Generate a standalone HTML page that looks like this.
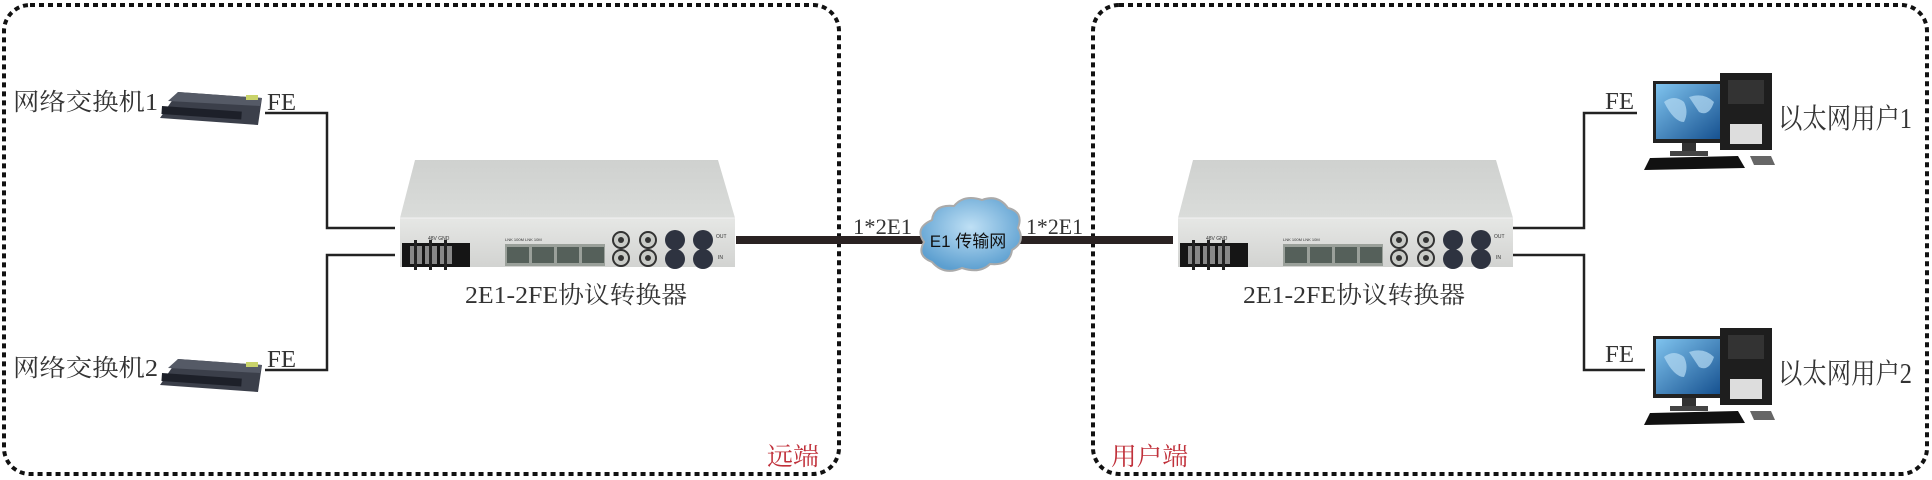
<!DOCTYPE html>
<html><head><meta charset="utf-8"><style>html,body{margin:0;padding:0;background:#fff}svg{display:block}</style></head><body>
<svg width="1932" height="480" viewBox="0 0 1932 480" xmlns="http://www.w3.org/2000/svg">
<defs>
<linearGradient id="top" x1="0" y1="0" x2="0" y2="1"><stop offset="0" stop-color="#cfd1cf"/><stop offset="1" stop-color="#dadcda"/></linearGradient>
<linearGradient id="front" x1="0" y1="0" x2="0" y2="1"><stop offset="0" stop-color="#e6e7e5"/><stop offset="1" stop-color="#d2d3d1"/></linearGradient>
<radialGradient id="cl" cx="0.5" cy="0.4" r="0.6"><stop offset="0" stop-color="#bfe0f5"/><stop offset="1" stop-color="#5c9fd0"/></radialGradient>
<linearGradient id="scr" x1="0" y1="0" x2="1" y2="1"><stop offset="0" stop-color="#7fc3ee"/><stop offset="1" stop-color="#15508f"/></linearGradient>
<g id="dev">
  <polygon points="15,0 318,0 335,58 0,58" fill="url(#top)"/>
  <rect x="0" y="58" width="335" height="49" fill="url(#front)"/>
  <line x1="0" y1="58" x2="335" y2="58" stroke="#f2f2f2" stroke-width="1"/>
  <rect x="2" y="83" width="68" height="24" fill="#151515"/>
  <rect x="10" y="86" width="12" height="18" fill="#888"/><rect x="25" y="86" width="12" height="18" fill="#888"/><rect x="40" y="86" width="12" height="18" fill="#888"/>
  <rect x="14" y="80" width="3" height="30" fill="#222"/><rect x="29" y="80" width="3" height="30" fill="#222"/><rect x="44" y="80" width="3" height="30" fill="#222"/>
  <text x="28" y="80" font-family="Liberation Sans" font-size="5" fill="#333">48V GND</text>
  <text x="105" y="81" font-family="Liberation Sans" font-size="4" fill="#333">LNK 100M LNK 10M</text>
  <rect x="105" y="84" width="100" height="22" fill="#9aa09a"/>
  <rect x="107" y="87" width="22" height="16" fill="#55605a"/><rect x="132" y="87" width="22" height="16" fill="#55605a"/><rect x="157" y="87" width="22" height="16" fill="#55605a"/><rect x="182" y="87" width="22" height="16" fill="#55605a"/>
  <g fill="#c9cbc7" stroke="#333" stroke-width="2">
    <circle cx="221" cy="80" r="8"/><circle cx="248" cy="80" r="8"/><circle cx="221" cy="98" r="8"/><circle cx="248" cy="98" r="8"/>
  </g>
  <g fill="#333"><circle cx="221" cy="80" r="3"/><circle cx="248" cy="80" r="3"/><circle cx="221" cy="98" r="3"/><circle cx="248" cy="98" r="3"/></g>
  <g fill="#2e3340"><circle cx="275" cy="80" r="10"/><circle cx="303" cy="80" r="10"/><circle cx="275" cy="99" r="10"/><circle cx="303" cy="99" r="10"/></g>
  <text x="316" y="78" font-family="Liberation Sans" font-size="5" fill="#333">OUT</text>
  <text x="318" y="99" font-family="Liberation Sans" font-size="5" fill="#333">IN</text>
</g>
<g id="sw">
  <polygon points="18,0 102,6 98,33 0,26" fill="#3b3f4a"/>
  <polygon points="18,0 102,6 100,14 8,9" fill="#555a66"/>
  <rect x="2" y="14" width="80" height="8" fill="#1d2029" transform="rotate(4 2 14)"/>
  <rect x="86" y="3" width="12" height="5" fill="#c9d36a"/>
</g>
<g id="pc">
  <rect x="9" y="9" width="72" height="62" fill="#222"/>
  <rect x="12" y="12" width="66" height="55" fill="url(#scr)"/>
  <path d="M20 30 q10-8 20 0 q5 10 0 20 q-10 0-20-20z M45 25 q15-5 25 5 q-5 15-15 10z" fill="#b7dcf3" opacity="0.7"/>
  <rect x="38" y="71" width="14" height="8" fill="#333"/>
  <rect x="26" y="79" width="38" height="5" fill="#444"/>
  <polygon points="76,1 128,1 128,78 76,78" fill="#1e1e1e"/>
  <rect x="84" y="8" width="36" height="24" fill="#333"/>
  <rect x="86" y="52" width="32" height="20" fill="#ddd"/>
  <polygon points="6,86 94,84 101,96 0,98" fill="#111"/>
  <polygon points="106,84 127,84 131,93 110,93" fill="#666"/>
</g>
</defs>

<!-- dashed boxes -->
<rect x="4" y="5" width="835" height="469" rx="26" fill="none" stroke="#111" stroke-width="4" stroke-dasharray="5 4"/>
<rect x="1093" y="5" width="834" height="469" rx="26" fill="none" stroke="#111" stroke-width="4" stroke-dasharray="5 4"/>

<!-- left connector lines -->
<polyline points="265,113 327,113 327,228 395,228" fill="none" stroke="#222" stroke-width="2.5"/>
<polyline points="265,370 327,370 327,255 395,255" fill="none" stroke="#222" stroke-width="2.5"/>
<!-- right connector lines -->
<polyline points="1512,228 1584,228 1584,113 1637,113" fill="none" stroke="#222" stroke-width="2.5"/>
<polyline points="1512,255 1584,255 1584,370 1645,370" fill="none" stroke="#222" stroke-width="2.5"/>
<!-- thick E1 line -->
<rect x="736" y="236" width="437" height="8" fill="#2a2222"/>

<!-- cloud -->
<g>
  <path d="M932 262 q-16-6-8-20 q-10-14 8-22 q2-16 22-14 q10-12 28-6 q16-6 26 8 q16 4 10 20 q8 14-6 22 q-2 16-22 14 q-10 10-28 4 q-18 8-30-6z" fill="url(#cl)" stroke="#aaa" stroke-width="2"/>
  <text x="968" y="247" text-anchor="middle" font-family="Liberation Sans, 'Noto Sans CJK SC', sans-serif" font-size="17" fill="#111">E1 传输网</text>
</g>
<text x="853" y="234" font-family="'Liberation Serif','Noto Serif CJK SC',serif" font-size="22" fill="#333" textLength="59" lengthAdjust="spacingAndGlyphs">1*2E1</text>
<text x="1026" y="234" font-family="'Liberation Serif','Noto Serif CJK SC',serif" font-size="22" fill="#333" textLength="57" lengthAdjust="spacingAndGlyphs">1*2E1</text>

<!-- devices -->
<use href="#dev" x="400" y="160"/>
<use href="#dev" x="1178" y="160"/>
<text x="465" y="303" font-family="'Liberation Serif','Noto Serif CJK SC',serif" font-size="24" fill="#333" textLength="222" lengthAdjust="spacingAndGlyphs">2E1-2FE协议转换器</text>
<text x="1243" y="303" font-family="'Liberation Serif','Noto Serif CJK SC',serif" font-size="24" fill="#333" textLength="222" lengthAdjust="spacingAndGlyphs">2E1-2FE协议转换器</text>

<!-- switches -->
<use href="#sw" x="160" y="92"/>
<use href="#sw" x="160" y="359"/>
<text x="13" y="110" font-family="'Liberation Serif','Noto Serif CJK SC',serif" font-size="24" fill="#333" textLength="145" lengthAdjust="spacingAndGlyphs">网络交换机1</text>
<text x="13" y="376" font-family="'Liberation Serif','Noto Serif CJK SC',serif" font-size="24" fill="#333" textLength="145" lengthAdjust="spacingAndGlyphs">网络交换机2</text>
<text x="267" y="110" font-family="'Liberation Serif',serif" font-size="24" fill="#333" textLength="29" lengthAdjust="spacingAndGlyphs">FE</text>
<text x="267" y="367" font-family="'Liberation Serif',serif" font-size="24" fill="#333" textLength="29" lengthAdjust="spacingAndGlyphs">FE</text>

<!-- PCs -->
<use href="#pc" x="1644" y="72"/>
<use href="#pc" x="1644" y="327"/>
<text x="1605" y="109" font-family="'Liberation Serif',serif" font-size="24" fill="#333" textLength="29" lengthAdjust="spacingAndGlyphs">FE</text>
<text x="1605" y="362" font-family="'Liberation Serif',serif" font-size="24" fill="#333" textLength="29" lengthAdjust="spacingAndGlyphs">FE</text>
<text x="1778" y="128" font-family="'Liberation Serif','Noto Serif CJK SC',serif" font-size="28" fill="#333" textLength="134" lengthAdjust="spacingAndGlyphs">以太网用户1</text>
<text x="1778" y="383" font-family="'Liberation Serif','Noto Serif CJK SC',serif" font-size="28" fill="#333" textLength="134" lengthAdjust="spacingAndGlyphs">以太网用户2</text>

<!-- region labels -->
<text x="767" y="465" font-family="'Liberation Serif','Noto Serif CJK SC',serif" font-size="25" fill="#c0303a" textLength="52" lengthAdjust="spacingAndGlyphs">远端</text>
<text x="1111" y="465" font-family="'Liberation Serif','Noto Serif CJK SC',serif" font-size="25" fill="#c0303a" textLength="77" lengthAdjust="spacingAndGlyphs">用户端</text>
</svg>
</body></html>
